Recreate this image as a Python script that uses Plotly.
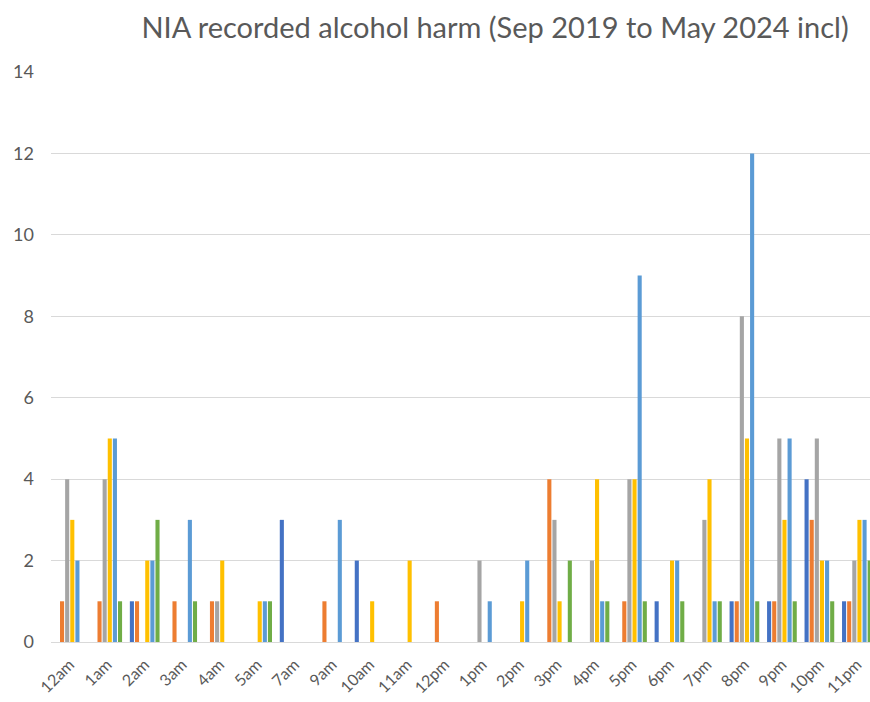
import plotly.graph_objects as go

categories = ["12am", "1am", "2am", "3am", "4am", "5am", "7am", "9am", "10am", "11am",
              "12pm", "1pm", "2pm", "3pm", "4pm", "5pm", "6pm", "7pm", "8pm", "9pm",
              "10pm", "11pm"]

series_names = ["2019", "2020", "2021", "2022", "2023", "2024"]

s2019 = [0, 0, 1, 0, 0, 0, 3, 0, 2, 0, 0, 0, 0, 0, 0, 0, 1, 0, 1, 1, 4, 1]
s2020 = [1, 1, 1, 1, 1, 0, 0, 1, 0, 0, 1, 0, 0, 4, 0, 1, 0, 0, 1, 1, 3, 1]
s2021 = [4, 4, 0, 0, 1, 0, 0, 0, 0, 0, 0, 2, 0, 3, 2, 4, 0, 3, 8, 5, 5, 2]
s2022 = [3, 5, 2, 0, 2, 1, 0, 0, 1, 2, 0, 0, 1, 1, 4, 4, 2, 4, 5, 3, 2, 3]
s2023 = [2, 5, 2, 3, 0, 1, 0, 3, 0, 0, 0, 1, 2, 0, 1, 9, 2, 1, 12, 5, 2, 3]
s2024 = [0, 1, 3, 1, 0, 1, 0, 0, 0, 0, 0, 0, 0, 2, 1, 1, 1, 1, 1, 1, 1, 2]

series_values = [s2019, s2020, s2021, s2022, s2023, s2024]
colors = ["#4472C4", "#ED7D31", "#A5A5A5", "#FFC000", "#5B9BD5", "#70AD47"]

y_ticks = [0, 2, 4, 6, 8, 10, 12, 14]

fig = go.Figure()
for name, vals, col in zip(series_names, series_values, colors):
    fig.add_trace(go.Bar(x=categories, y=vals, name=name, marker_color=col,
                         marker_line_width=0))

font_family = "Lato, 'Open Sans', sans-serif"

fig.update_layout(
    width=870, height=702,
    paper_bgcolor="white", plot_bgcolor="white",
    margin=dict(l=51, r=0, t=72, b=60, autoexpand=False),
    barmode="group", bargap=0.18, bargroupgap=0.2,
    showlegend=False,
    title=dict(text="NIA recorded alcohol harm (Sep 2019 to May 2024 incl)",
               x=0.569, xanchor="center", y=0.96, yanchor="middle",
               automargin=False,
               font=dict(family=font_family, size=29, color="#595959")),
    font=dict(family=font_family, color="#595959"),
)

fig.update_xaxes(
    type="category", range=[-0.5, 21.35], tickangle=-45,
    tickfont=dict(size=16, color="#595959"),
    showgrid=False, showline=True, linecolor="#D9D9D9", linewidth=1,
    ticks="", fixedrange=True, automargin=False, ticklabelstandoff=6,
)
fig.update_yaxes(
    range=[0, 14], tickvals=y_ticks,
    tickfont=dict(size=18, color="#595959"),
    showgrid=True, gridcolor="#D9D9D9", gridwidth=1,
    zeroline=False, showline=False, ticks="", ticklabelstandoff=16,
    automargin=False, fixedrange=True,
)

fig.write_html(
    "out.html",
    config={"displayModeBar": False, "staticPlot": True},
    post_script="document.body.style.margin='0';document.body.style.overflow='hidden';",
)
